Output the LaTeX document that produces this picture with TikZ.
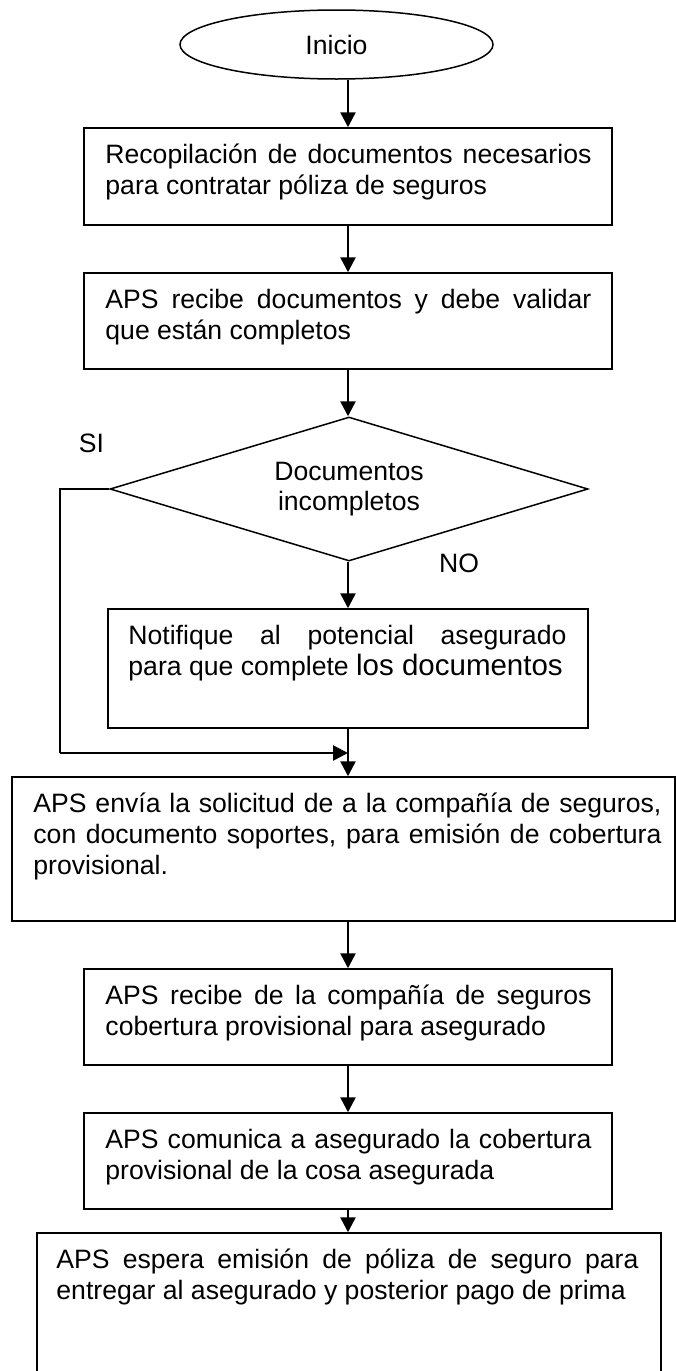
\documentclass[tikz,border=0pt]{standalone}
\usepackage{fontspec}
\setmainfont{Liberation Sans}
\usetikzlibrary{shapes.geometric,arrows.meta}
\hyphenpenalty=10000
\exhyphenpenalty=10000
\newcommand{\firstln}{\rule{0pt}{22pt}}
\begin{document}
\begin{tikzpicture}[x=1pt,y=-1pt,
  box/.style={draw,line width=1.5pt,rectangle,inner sep=0pt},
  txt/.style={anchor=north west,inner sep=0pt,align=justify,font=\fontsize{26.6}{30.6}\selectfont},
  lbl/.style={inner sep=0pt,font=\fontsize{26.6}{30.6}\selectfont},
  arr/.style={-{Triangle[length=15pt,width=15pt]},line width=2.5pt},
  seg/.style={line width=2.5pt}]
\fill[white] (0,0) rectangle (676,1371);
\clip (0,0) rectangle (676,1371);
\coordinate (ax) at (348,0);
% start
\node[draw,ellipse,line width=1.5pt,minimum width=313pt,minimum height=69pt,inner sep=0pt,font=\fontsize{26.6}{30.6}\selectfont] (e) at (336.5,44.5) {Inicio};
% box 1
\node[box,minimum width=528pt,minimum height=97pt] (b1) at (348,176.5) {};
\node[txt,text width=486pt] (t1) at ([xshift=22pt,yshift=-14.5pt]b1.north west) {\firstln Recopilación de documentos necesarios\linebreak para contratar póliza de seguros};
% box 2
\node[box,minimum width=528pt,minimum height=96pt] (b2) at (348,321) {};
\node[txt,text width=486pt] (t2) at ([xshift=22pt,yshift=-14.5pt]b2.north west) {\firstln APS recibe documentos y debe validar\linebreak que están completos};
% decision
\node[draw,diamond,aspect=3.32,line width=1.5pt,minimum width=478pt,minimum height=144pt,inner sep=0pt,align=center,font=\fontsize{26.6}{30}\selectfont] (d) at (349,489) {Documentos\\incompletos};
\node[lbl] (si) at (91.5,443.5) {SI};
\node[lbl] (no) at (459,563.5) {NO};
% box 3
\node[box,minimum width=480pt,minimum height=119pt] (b3) at (348,668.5) {};
\node[txt,text width=438pt] (t3) at ([xshift=21pt,yshift=-14.5pt]b3.north west) {\firstln Notifique al potencial asegurado\linebreak para que complete {\fontsize{29.5}{30.6}\selectfont los documentos}};
% box 4
\node[box,minimum width=663pt,minimum height=144pt] (b4) at (343.5,849) {};
\node[txt,text width=628pt] (t4) at ([xshift=22pt,yshift=-14.5pt]b4.north west) {\firstln APS envía la solicitud de a la compañía de seguros,\linebreak con documento soportes, para emisión de cobertura\linebreak provisional.};
% box 5
\node[box,minimum width=528pt,minimum height=96pt] (b5) at (348,1017) {};
\node[txt,text width=486pt] (t5) at ([xshift=22pt,yshift=-14.5pt]b5.north west) {\firstln APS recibe de la compañía de seguros\linebreak cobertura provisional para asegurado};
% box 6
\node[box,minimum width=528pt,minimum height=96pt] (b6) at (348,1161) {};
\node[txt,text width=486pt] (t6) at ([xshift=22pt,yshift=-14.5pt]b6.north west) {\firstln APS comunica a asegurado la cobertura\linebreak provisional de la cosa asegurada};
% box 7
\node[box,minimum width=624pt,minimum height=170pt] (b7) at (349,1318) {};
\node[txt,text width=582pt] (t7) at ([xshift=20pt,yshift=-14.5pt]b7.north west) {\firstln APS espera emisión de póliza de seguro para\linebreak entregar al asegurado y posterior pago de prima};
% loop for SI
\coordinate (sl) at (60,489);
\coordinate (sb) at (60,753);
\coordinate (m) at (348,753);
% connectors
\draw[arr] (e.south -| ax) -- (b1.north -| ax);
\draw[arr] (b1.south -| ax) -- (b2.north -| ax);
\draw[arr] (b2.south -| ax) -- (d.north -| ax);
\draw[arr] (d.south -| ax) -- (b3.north -| ax);
\draw[seg] (d.west) -- (sl) -- (sb);
\draw[arr] (sb) -- (m);
\draw[arr] (b3.south -| ax) -- (b4.north -| ax);
\draw[arr] (b4.south -| ax) -- (b5.north -| ax);
\draw[arr] (b5.south -| ax) -- (b6.north -| ax);
\draw[arr] (b6.south -| ax) -- (b7.north -| ax);
\end{tikzpicture}
\end{document}
